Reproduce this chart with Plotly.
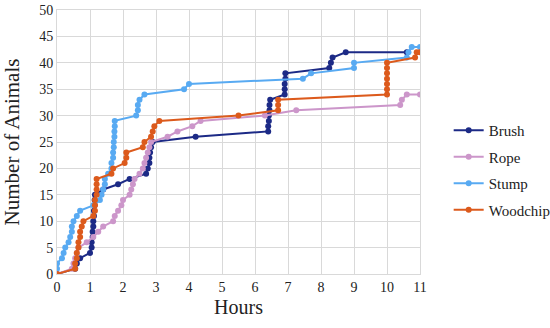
import plotly.graph_objects as go

# hours and cumulative counts
brush_h = [0, 0.55, 0.6, 0.7, 1.0, 1.05, 1.05, 1.08, 1.08, 1.1, 1.1, 1.12, 1.12, 1.14, 1.14, 1.15,
           1.4, 1.85, 2.2, 2.7, 2.75, 2.8, 2.8, 2.82, 2.85, 2.9, 4.2,
           6.4, 6.4, 6.42, 6.42, 6.44, 6.44, 6.46, 6.9, 6.9, 6.9, 6.92, 6.92,
           8.25, 8.3, 8.35, 8.75, 10.6]
brush_n = [0, 1, 2, 3, 4, 5, 6, 7, 8, 9, 10, 11, 12, 13, 14, 15,
           16, 17, 18, 19, 20, 21, 22, 23, 24, 25, 26,
           27, 28, 29, 30, 31, 32, 33, 34, 35, 36, 37, 38,
           39, 40, 41, 42, 42]

rope_h = [0, 0.45, 0.5, 0.55, 0.6, 0.65, 0.9, 1.1, 1.25, 1.4, 1.7, 1.75, 1.85, 1.95, 2.0,
          2.2, 2.25, 2.3, 2.35, 2.5, 2.6, 2.65, 2.7, 2.75, 2.8, 2.85, 3.35, 3.65, 4.1, 4.35,
          6.3, 7.25, 10.4, 10.45, 10.6, 11.0]
rope_n = [0, 1, 2, 3, 4, 5, 6, 7, 8, 9, 10, 11, 12, 13, 14,
          15, 16, 17, 18, 19, 20, 21, 22, 23, 24, 25, 26, 27, 28, 29,
          30, 31, 32, 33, 34, 34]

stump_h = [0, 0, 0.15, 0.2, 0.25, 0.35, 0.4, 0.45, 0.45, 0.5, 0.6, 0.7, 1.1, 1.3, 1.35,
           1.4, 1.45, 1.45, 1.55, 1.65, 1.65, 1.7, 1.7, 1.72, 1.72, 1.74, 1.74, 1.75, 1.75,
           2.4, 2.45, 2.45, 2.5, 2.65, 3.85, 4.0, 7.45, 7.7, 9.0, 9.0, 10.6, 10.65, 10.75, 11.0]
stump_n = [1, 2, 3, 4, 5, 6, 7, 8, 9, 10, 11, 12, 13, 14, 15,
           16, 17, 18, 19, 20, 21, 22, 23, 24, 25, 26, 27, 28, 29,
           30, 31, 32, 33, 34, 35, 36, 37, 38, 39, 40, 41, 42, 43, 43]

wood_h = [0, 0.55, 0.55, 0.6, 0.6, 0.65, 0.65, 0.7, 0.7, 0.75, 0.8, 1.1, 1.15, 1.15, 1.15,
          1.2, 1.2, 1.2, 1.2, 1.65, 1.7, 2.05, 2.1, 2.1, 2.6, 2.65, 2.85, 2.9, 2.95, 3.1,
          5.5, 6.7, 6.7, 6.7, 10.0, 10.0, 10.0, 10.0, 10.0, 10.0, 10.0, 10.85, 10.9, 11.0]
wood_n = [0, 1, 2, 3, 4, 5, 6, 7, 8, 9, 10, 11, 12, 13, 14,
          15, 16, 17, 18, 19, 20, 21, 22, 23, 24, 25, 26, 27, 28, 29,
          30, 31, 32, 33, 34, 35, 36, 37, 38, 39, 40, 41, 42, 42]

series = [
    ("Brush", brush_h, brush_n, "#1c2a86"),
    ("Rope", rope_h, rope_n, "#cc96ca"),
    ("Stump", stump_h, stump_n, "#58aaf2"),
    ("Woodchip", wood_h, wood_n, "#dc5a1c"),
]

serif = "Liberation Serif"

fig = go.Figure()
for name, h, n, col in series:
    fig.add_trace(go.Scatter(x=h, y=n, name=name, legendgroup=name, mode="lines+markers",
                             line=dict(color=col, width=2),
                             marker=dict(color=col, size=6)))

fig.update_layout(
    width=550, height=328,
    margin=dict(l=57, r=130, t=10, b=54, autoexpand=False),
    paper_bgcolor="white", plot_bgcolor="white",
    font=dict(family=serif, color="#222222", size=14),
    legend=dict(x=1.079, y=0.394, yanchor="middle", font=dict(family=serif, size=15),
                tracegroupgap=4, traceorder="grouped", bgcolor="rgba(0,0,0,0)"),
)
fig.update_xaxes(range=[0, 11], dtick=1, showgrid=True, gridcolor="#d9d9d9",
                 showline=True, linecolor="#d9d9d9", mirror=True, zeroline=False,
                 ticks="", automargin=False, tickfont=dict(family=serif, size=14, color="#222222"),
                 title=dict(text="Hours", font=dict(family=serif, size=20), standoff=6))
fig.update_yaxes(range=[0, 50], dtick=5, showgrid=True, gridcolor="#d9d9d9",
                 showline=True, linecolor="#d9d9d9", mirror=True, zeroline=False,
                 ticks="", automargin=False, tickfont=dict(family=serif, size=14, color="#222222"),
                 title=dict(text="Number of Animals", font=dict(family=serif, size=21), standoff=14))

# drop the default 8px page margin so the figure sits at the window corner
fig.write_html("out.html", config={"displayModeBar": False},
               post_script="document.body.style.margin='0';")
